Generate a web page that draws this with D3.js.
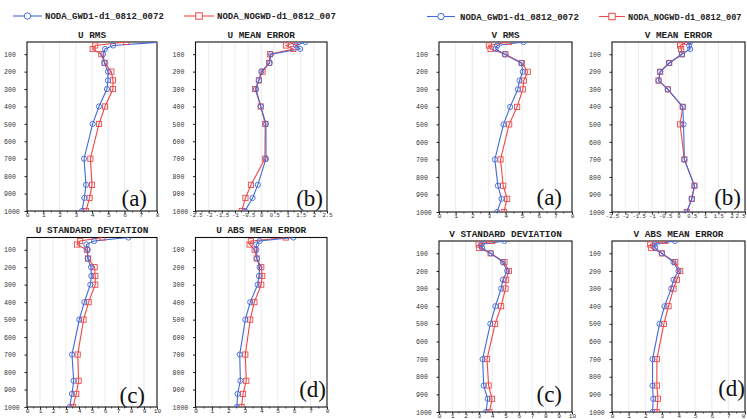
<!DOCTYPE html>
<html><head><meta charset="utf-8">
<script src="https://cdn.jsdelivr.net/npm/d3@7"></script>
<style>body{margin:0;background:#fff}svg{display:block}</style>
</head><body>
<svg id="c" width="747" height="419"></svg>
<script>
// ---------- data ----------
const levels = [30, 50, 70, 100, 150, 200, 250, 300, 400, 500, 700, 850, 925, 1000];
const seriesNames = ["NODA_GWD1-d1_0812_0072", "NODA_NOGWD-d1_0812_007"];

const uRmsGwd   = [8.3, 5.3, 4.8, 4.68, 4.76, 4.98, 4.98, 4.92, 4.43, 4.04, 3.51, 3.63, 3.53, 3.38];
const uRmsNogwd = [6.1, 4.2, 4.04, 4.57, 4.78, 5.19, 5.29, 5.29, 4.8, 4.43, 3.9, 4.0, 3.85, 3.63];
const uMeGwd    = [1.67, 1.32, 1.48, 0.37, 0.32, 0.0, -0.09, -0.2, -0.02, 0.18, 0.18, -0.13, -0.33, -0.62];
const uMeNogwd  = [1.3, 0.94, 1.22, 0.33, 0.3, 0.05, -0.09, -0.23, -0.02, 0.15, 0.14, -0.39, -0.6, -0.74];
const uStdGwd   = [7.8, 5.16, 4.57, 4.67, 4.67, 4.92, 4.95, 4.87, 4.41, 4.02, 3.46, 3.59, 3.46, 3.28];
const uStdNogwd = [5.8, 4.09, 3.85, 4.6, 4.7, 5.2, 5.25, 5.25, 4.74, 4.35, 3.9, 3.97, 3.79, 3.54];
const uAbsGwd   = [5.96, 3.9, 3.7, 3.7, 3.74, 3.9, 3.86, 3.78, 3.33, 3.03, 2.69, 2.73, 2.56, 2.52];
const uAbsNogwd = [5.5, 3.37, 3.29, 3.6, 3.72, 4.0, 4.06, 4.0, 3.58, 3.33, 3.03, 3.09, 2.89, 2.8];

const vRmsGwd   = [5.08, 3.5, 3.4, 3.95, 4.95, 5.04, 4.84, 4.74, 4.28, 3.88, 3.36, 3.54, 3.76, 3.5];
const vRmsNogwd = [4.2, 3.0, 3.1, 4.0, 4.98, 5.34, 5.1, 5.04, 4.7, 4.22, 3.7, 3.86, 4.1, 3.9];
const vMeGwd    = [0.44, 0.4, 0.44, 0.13, -0.35, -0.69, -0.75, -0.4, 0.16, 0.19, 0.22, 0.6, 0.5, 0.31];
const vMeNogwd  = [0.31, 0.06, 0.1, 0.13, -0.35, -0.69, -0.75, -0.4, 0.16, 0.06, 0.22, 0.6, 0.5, 0.31];
const vStdGwd   = [4.92, 3.2, 3.25, 3.9, 4.8, 5.13, 4.8, 4.67, 4.24, 3.86, 3.28, 3.36, 3.66, 3.54];
const vStdNogwd = [4.0, 2.98, 3.03, 3.88, 4.92, 5.25, 5.05, 5.0, 4.67, 4.22, 3.61, 3.73, 3.99, 3.79];
const vAbsGwd   = [3.79, 2.56, 2.6, 3.0, 3.7, 4.0, 3.7, 3.56, 3.16, 2.86, 2.44, 2.44, 2.48, 2.44];
const vAbsNogwd = [3.2, 2.3, 2.36, 3.0, 3.8, 4.1, 3.9, 3.7, 3.4, 3.12, 2.7, 2.7, 2.76, 2.7];

const rmsTicks = [0, 1, 2, 3, 4, 5, 6, 7, 8];
const meTicks  = [-2.5, -2, -1.5, -1, -0.5, 0, 0.5, 1, 1.5, 2, 2.5];
const stdTicks = [0, 1, 2, 3, 4, 5, 6, 7, 8, 9, 10];
const absTicks = [0, 1, 2, 3, 4, 5, 6, 7, 8];
const yTicks   = [100, 200, 300, 400, 500, 600, 700, 800, 900, 1000];

// ---------- layout ----------
const BLUE = "#4169d8", RED = "#ee4848";
const svg = d3.select("#c");
const defs = svg.append("defs");

const panels = [
  {t:"U RMS", tag:"(a)", a:uRmsGwd, b:uRmsNogwd, ticks:rmsTicks, x:27, y:42, w:130, h:169, tagX:147, tagY:206},
  {t:"U MEAN ERROR", tag:"(b)", a:uMeGwd, b:uMeNogwd, ticks:meTicks, x:195.5, y:42, w:131.5, h:169, tagX:323, tagY:206},
  {t:"U STANDARD DEVIATION", tag:"(c)", a:uStdGwd, b:uStdNogwd, ticks:stdTicks, x:27, y:237.5, w:130, h:169.5, tagX:145, tagY:403},
  {t:"U ABS MEAN ERROR", tag:"(d)", a:uAbsGwd, b:uAbsNogwd, ticks:absTicks, x:195.5, y:237.5, w:131.5, h:169.5, tagX:326, tagY:397},
  {t:"V RMS", tag:"(a)", a:vRmsGwd, b:vRmsNogwd, ticks:rmsTicks, x:439, y:42, w:133, h:170, tagX:562, tagY:205},
  {t:"V MEAN ERROR", tag:"(b)", a:vMeGwd, b:vMeNogwd, ticks:meTicks, x:612, y:42, w:133, h:170, tagX:741, tagY:205},
  {t:"V STANDARD DEVIATION", tag:"(c)", a:vStdGwd, b:vStdNogwd, ticks:stdTicks, x:439, y:241, w:133, h:171, tagX:562, tagY:402},
  {t:"V ABS MEAN ERROR", tag:"(d)", a:vAbsGwd, b:vAbsNogwd, ticks:absTicks, x:612, y:241, w:133, h:171, tagX:745, tagY:396}
];

const MONO = "'Liberation Mono','DejaVu Sans Mono',monospace";

function fmt(v){ return String(v); }

panels.forEach((p, i) => {
  const xs = d3.scaleLinear().domain([p.ticks[0], p.ticks[p.ticks.length-1]]).range([p.x, p.x + p.w]);
  const ys = d3.scaleLinear().domain([30, 1000]).range([p.y, p.y + p.h]);
  const g = svg.append("g");
  const cid = "clip" + i;
  defs.append("clipPath").attr("id", cid).append("rect")
    .attr("x", p.x).attr("y", p.y).attr("width", p.w).attr("height", p.h);

  // grid
  g.append("g").selectAll("line").data(p.ticks.slice(1, -1)).join("line")
    .attr("x1", d => xs(d)).attr("x2", d => xs(d))
    .attr("y1", p.y).attr("y2", p.y + p.h)
    .attr("stroke", "#e4e4e4").attr("stroke-width", 0.7);

  // axes
  const xa = d3.axisBottom(xs).tickValues(p.ticks).tickSize(2.5).tickFormat(fmt);
  const gx = g.append("g").attr("transform", `translate(0,${p.y + p.h})`).call(xa);
  gx.select(".domain").remove();
  gx.selectAll("line").attr("stroke", "#222");
  gx.selectAll("text").attr("font-family", MONO).attr("font-size", p.ticks === meTicks ? 5.6 : 6.2)
    .attr("fill", "#333").attr("dy", "0.55em").attr("y", 3);
  // keep the right-most label inside the picture when the panel touches the edge
  if (p.x + p.w > 740) {
    gx.selectAll("text").filter((d, k, n) => k === n.length - 1).attr("text-anchor", "end");
  }

  const ya = d3.axisLeft(ys).tickValues(yTicks).tickSize(2.5).tickFormat(fmt);
  const gy = g.append("g").attr("transform", `translate(${p.x},0)`).call(ya);
  gy.select(".domain").remove();
  gy.selectAll("line").attr("stroke", "#222");
  gy.selectAll("text").attr("font-family", MONO).attr("font-size", 6.6).attr("fill", "#333")
    .attr("text-anchor", "start").attr("x", -23);

  // minor ticks on x axis
  const minor = [];
  for (let k = 0; k < p.ticks.length - 1; k++) {
    const a = p.ticks[k], b = p.ticks[k+1];
    minor.push((a + b) / 2);
  }
  g.append("g").selectAll("line").data(minor).join("line")
    .attr("x1", d => xs(d)).attr("x2", d => xs(d))
    .attr("y1", p.y + p.h).attr("y2", p.y + p.h + 1.5)
    .attr("stroke", "#333").attr("stroke-width", 0.8);

  // frame
  g.append("rect").attr("x", p.x).attr("y", p.y).attr("width", p.w).attr("height", p.h)
    .attr("fill", "none").attr("stroke", "#111").attr("stroke-width", 1.1);

  // title
  g.append("text").attr("x", p.x + p.w / 2).attr("y", p.y - 4.5)
    .attr("text-anchor", "middle").attr("font-family", MONO).attr("font-weight", "bold")
    .attr("font-size", 9.4).attr("fill", "#222").text(p.t);

  // series
  const plot = g.append("g").attr("clip-path", `url(#${cid})`);
  const line = d3.line().x(d => xs(d[0])).y(d => ys(d[1]));
  const dA = p.a.map((v, k) => [v, levels[k]]);
  const dB = p.b.map((v, k) => [v, levels[k]]);
  plot.append("path").datum(dB).attr("d", line).attr("fill", "none").attr("stroke", RED).attr("stroke-width", 1.1);
  plot.append("path").datum(dA).attr("d", line).attr("fill", "none").attr("stroke", BLUE).attr("stroke-width", 1.1);
  plot.append("g").selectAll("rect").data(dB).join("rect")
    .attr("x", d => xs(d[0]) - 2.6).attr("y", d => ys(d[1]) - 2.6)
    .attr("width", 5.2).attr("height", 5.2).attr("fill", "none").attr("stroke", RED).attr("stroke-width", 0.9);
  plot.append("g").selectAll("circle").data(dA).join("circle")
    .attr("cx", d => xs(d[0])).attr("cy", d => ys(d[1])).attr("r", 2.6)
    .attr("fill", "none").attr("stroke", BLUE).attr("stroke-width", 0.9);

  // panel tag
  g.append("text").attr("x", p.tagX).attr("y", p.tagY).attr("text-anchor", "end")
    .attr("font-family", "'Liberation Serif','Times New Roman',serif").attr("font-size", 23)
    .attr("fill", "#111").text(p.tag);
});

// ---------- legends ----------
const legends = [
  {x1:13, x2:42, tx:45, y:16, s:0, fs:9},
  {x1:184, x2:214, tx:217, y:16, s:1, fs:9},
  {x1:427, x2:455, tx:460, y:16.5, s:0, fs:9},
  {x1:599, x2:625, tx:628, y:16.5, s:1, fs:8.6}
];
legends.forEach(l => {
  const col = l.s === 0 ? BLUE : RED;
  const g = svg.append("g");
  g.append("line").attr("x1", l.x1).attr("x2", l.x2).attr("y1", l.y).attr("y2", l.y)
    .attr("stroke", col).attr("stroke-width", 1.1);
  const cx = (l.x1 + l.x2) / 2;
  if (l.s === 0) {
    g.append("circle").attr("cx", cx).attr("cy", l.y).attr("r", 3.2).attr("fill", "#fff")
      .attr("stroke", col).attr("stroke-width", 1);
  } else {
    g.append("rect").attr("x", cx - 3.2).attr("y", l.y - 3.2).attr("width", 6.4).attr("height", 6.4)
      .attr("fill", "#fff").attr("stroke", col).attr("stroke-width", 1);
  }
  g.append("text").attr("x", l.tx).attr("y", l.y + 3).attr("font-family", MONO).attr("font-weight", "bold")
    .attr("font-size", l.fs).attr("fill", "#222").text(seriesNames[l.s]);
});
</script>
</body></html>
